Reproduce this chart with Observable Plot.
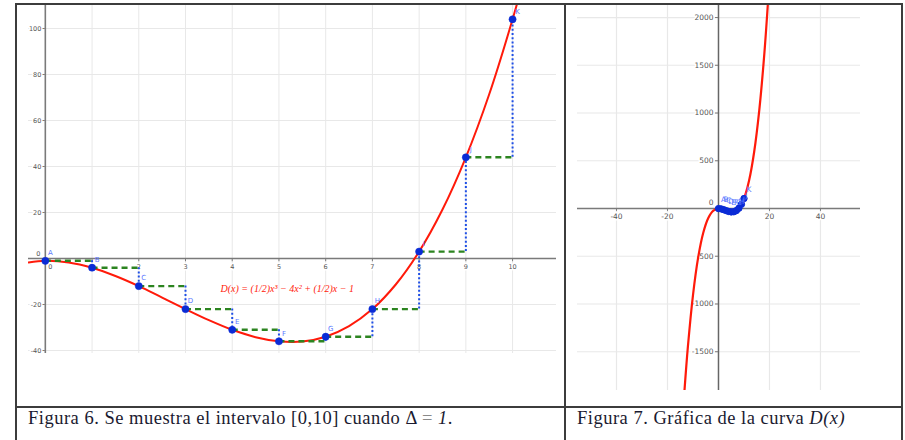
<!DOCTYPE html>
<html><head><meta charset="utf-8">
<script src="https://cdn.jsdelivr.net/npm/d3@7"></script>
<script src="https://cdn.jsdelivr.net/npm/@observablehq/plot@0.6"></script>
<style>
body{margin:0;background:#fff;}
#wrap{position:relative;width:905px;height:440px;overflow:hidden;background:#fff;font-family:"Liberation Serif","Times New Roman",serif;}
.ln{position:absolute;background:#3c3c3c;}
.cap{position:absolute;font-size:18.5px;letter-spacing:0.5px;color:#1a1a30;white-space:nowrap;line-height:normal;}
#p1{position:absolute;left:17px;top:5px;}
#p2{position:absolute;left:567px;top:5px;}
</style></head><body>
<div id="wrap">
  <div id="p1"></div>
  <div id="p2"></div>
  <div class="ln" style="left:15px;top:3px;width:2px;height:437px"></div>
  <div class="ln" style="left:15px;top:3px;width:888px;height:2px"></div>
  <div class="ln" style="left:901px;top:3px;width:2px;height:437px"></div>
  <div class="ln" style="left:564px;top:3px;width:2px;height:437px"></div>
  <div class="ln" style="left:15px;top:406px;width:888px;height:2px"></div>
  <div class="cap" id="cap1" style="left:28px;top:408px"></div>
  <div class="cap" id="cap2" style="left:577px;top:408px"></div>
</div>
<script>
// ---- data ----
const pointLabels = ["A","B","C","D","E","F","G","H","I","J","K"];
const pointX = [0,1,2,3,4,5,6,7,8,9,10];
const pointY = [-1,-4,-12,-22,-31,-36,-34,-22,3,44,104];

const curveX = [-0.36,0,0.5,1,1.5,2,2.5,3,3.5,4,4.5,5,5.5,6,6.5,7,7.5,8,8.5,9,9.5,10,10.2];
const curveY = [-1.7,-1,-1.7,-4,-7.6,-12,-17,-22,-26.8,-31,-34.2,-36,-36.1,-34,-29.4,-22,-11.3,3,21.3,44,71.4,104,118.5];

const bigCurveX = [-13.4,-12,-10,-8,-6,-4,-2,0,2,4,6,8,10,12,14,16,18,19.6];
const bigCurveY = [-1929,-1447,-906,-517,-256,-99,-22,-1,-12,-31,-34,3,104,293,594,1031,1628,2237];

const leftXTicks = [1,2,3,4,5,6,7,8,9,10];
const leftYTicks = [-40,-20,20,40,60,80,100];
const rightXTicks = [-40,-20,20,40];
const rightYTicks = [-1500,-1000,-500,500,1000,1500,2000];
const equationText = "D(x) = (1/2)x³ − 4x² + (1/2)x − 1";
const caption1 = "Figura 6. Se muestra el intervalo [0,10] cuando Δ  ";
const caption2 = "Figura 7. Gráfica de la curva ";

// ---- styles ----
const RED = "#ff1a0a", GREEN = "#2c8420", BLUE_DOT = "#1f4fe6", PT = "#0a2bd6", LBL = "#5a78ff";
const GRID = "#e8e8e8", AXIS = "#7a7a7a", TXT = "#555";
const SANS = "DejaVu Sans";

const idx = d3.range(pointX.length);
const steps = d3.range(pointX.length - 1);
const cIdx = d3.range(curveX.length);
const bIdx = d3.range(bigCurveX.length);

const halo = {stroke: "white", strokeWidth: 3, paintOrder: "stroke"};

const left = Plot.plot({
  width: 547, height: 401,
  marginLeft: 11, marginRight: 8, marginTop: 0, marginBottom: 53,
  style: {fontFamily: SANS},
  x: {domain: [-0.36, 10.94], axis: null},
  y: {domain: [-41.3, 110], axis: null},
  marks: [
    Plot.ruleX(leftXTicks, {stroke: GRID, strokeWidth: 1}),
    Plot.ruleY(leftYTicks, {stroke: GRID, strokeWidth: 1}),
    Plot.ruleY([0], {stroke: AXIS, strokeWidth: 1.6}),
    Plot.ruleX([0], {stroke: AXIS, strokeWidth: 1.6}),
    Plot.ruleX(leftXTicks, {x: d => d, y1: 0, y2: -1.4, stroke: AXIS}),
    Plot.ruleY(leftYTicks, {y: d => d, x1: -0.07, x2: 0, stroke: AXIS}),
    Plot.text(leftXTicks, {x: d => d, y: 0, dy: 8, text: d => String(d), fontSize: 6.5, fontFamily: SANS, fill: TXT, ...halo}),
    Plot.text(leftYTicks, {x: 0, y: d => d, dx: -4, textAnchor: "end", text: d => String(d), fontSize: 6.5, fontFamily: SANS, fill: TXT, ...halo}),
    Plot.text(["0"], {x: 0, y: 0, dx: -5, dy: -5, textAnchor: "end", text: d => d, fontSize: 6.5, fontFamily: SANS, fill: TXT}),
    Plot.text(["0"], {x: 0, y: 0, dx: 5, dy: 8, text: d => d, fontSize: 6.5, fontFamily: SANS, fill: TXT}),
    Plot.line(cIdx, {x: i => curveX[i], y: i => curveY[i], stroke: RED, strokeWidth: 2, curve: "catmull-rom", clip: true}),
    Plot.ruleY(steps, {y: i => pointY[i], x1: i => pointX[i], x2: i => pointX[i + 1], stroke: GREEN, strokeWidth: 2.4, strokeDasharray: "6,4"}),
    Plot.ruleX(steps, {x: i => pointX[i + 1], y1: i => pointY[i], y2: i => pointY[i + 1], stroke: BLUE_DOT, strokeWidth: 2, strokeDasharray: "2,2.2"}),
    Plot.dot(idx, {x: i => pointX[i], y: i => pointY[i], r: 3.6, fill: PT, stroke: PT, strokeWidth: 0.5}),
    Plot.text(idx, {x: i => pointX[i], y: i => pointY[i], text: i => pointLabels[i], dx: 5, dy: -8, fontSize: 7, fontFamily: SANS, fill: LBL}),
    Plot.text([equationText], {x: 3.75, y: -13.2, text: d => d, textAnchor: "start", fontSize: 10, fill: RED, fontStyle: "italic", fontFamily: "Liberation Serif"})
  ]
});
document.getElementById("p1").appendChild(left);

const right = Plot.plot({
  width: 334, height: 401,
  marginLeft: 10, marginRight: 41, marginTop: 0, marginBottom: 16,
  style: {fontFamily: SANS},
  x: {domain: [-55.3, 55.7], axis: null},
  y: {domain: [-1906, 2126], axis: null},
  marks: [
    Plot.ruleX(rightXTicks, {stroke: GRID, strokeWidth: 1.2}),
    Plot.ruleY(rightYTicks, {stroke: GRID, strokeWidth: 1.2}),
    Plot.ruleY([0], {stroke: AXIS, strokeWidth: 1.5}),
    Plot.ruleX([0], {stroke: "#666", strokeWidth: 1.5}),
    Plot.ruleX(rightXTicks, {x: d => d, y1: 0, y2: -30, stroke: AXIS}),
    Plot.ruleY(rightYTicks, {y: d => d, x1: -1.2, x2: 0, stroke: AXIS}),
    Plot.text(rightXTicks, {x: d => d, y: 0, dy: 8, text: d => String(d), fontSize: 7.5, fontFamily: SANS, fill: TXT, ...halo}),
    Plot.text(rightYTicks, {x: 0, y: d => d, dx: -5, textAnchor: "end", text: d => String(d), fontSize: 7.5, fontFamily: SANS, fill: TXT, ...halo}),
    Plot.text(["0"], {x: 0, y: 0, dx: -5, dy: -6, textAnchor: "end", text: d => d, fontSize: 7.5, fontFamily: SANS, fill: TXT}),
    Plot.line(bIdx, {x: i => bigCurveX[i], y: i => bigCurveY[i], stroke: RED, strokeWidth: 2.2, curve: "catmull-rom", clip: true}),
    Plot.dot(idx, {x: i => pointX[i], y: i => pointY[i], r: 3.2, fill: PT, stroke: PT, strokeWidth: 1}),
    Plot.text(idx, {x: i => pointX[i], y: i => pointY[i], text: i => pointLabels[i], dx: 5, dy: -9, fontSize: 7.5, fontFamily: SANS, fill: LBL})
  ]
});
document.getElementById("p2").appendChild(right);

// captions
const c1 = document.getElementById("cap1");
c1.appendChild(document.createTextNode(caption1));
const eq = document.createElement("span"); eq.textContent = " = "; eq.style.color = "#8a8a8a"; c1.appendChild(eq);
const one = document.createElement("i"); one.textContent = "1"; c1.appendChild(one);
c1.appendChild(document.createTextNode("."));
const c2 = document.getElementById("cap2");
c2.appendChild(document.createTextNode(caption2));
const dx = document.createElement("i"); dx.textContent = "D(x)"; c2.appendChild(dx);
</script>
</body></html>
